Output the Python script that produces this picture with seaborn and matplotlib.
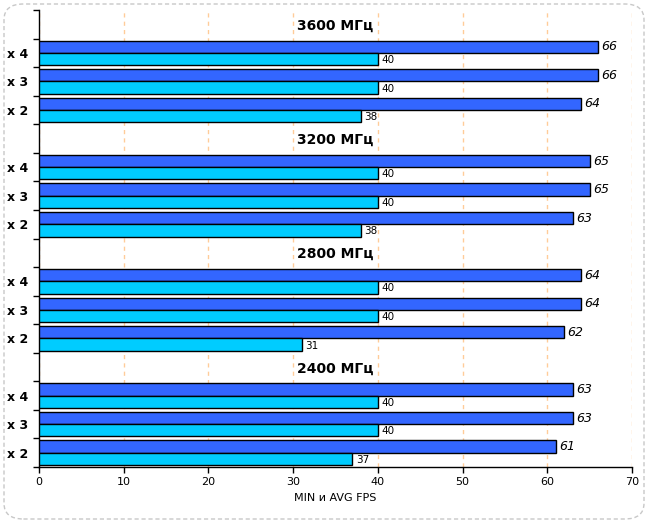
import matplotlib.pyplot as plt
import pandas as pd
import seaborn as sns
from matplotlib.patches import FancyBboxPatch

# data (top to bottom)
freqs = ["3600 МГц", "3200 МГц", "2800 МГц", "2400 МГц"]
modes = ["x 4", "x 3", "x 2"]
avg_fps = [[66, 66, 64], [65, 65, 63], [64, 64, 62], [63, 63, 61]]
min_fps = [[40, 40, 38], [40, 40, 38], [40, 40, 31], [40, 40, 37]]

# build the rows; each group gets an empty slot for its title
order = []
rows = []
for i, f in enumerate(freqs):
    order.append("t" + f)
    for j, m in enumerate(modes):
        key = f + m
        order.append(key)
        rows.append({"slot": key, "kind": "AVG", "fps": avg_fps[i][j]})
        rows.append({"slot": key, "kind": "MIN", "fps": min_fps[i][j]})
df = pd.DataFrame(rows)

sns.set_style("white")
plt.rcParams["font.family"] = ["DejaVu Sans"]
plt.rcParams["text.color"] = "black"
plt.rcParams["xtick.color"] = "black"
plt.rcParams["ytick.color"] = "black"
plt.rcParams["axes.labelcolor"] = "black"

fig = plt.figure(figsize=(6.48, 5.23), dpi=100)
ax = fig.add_axes([39 / 648, 1 - 467 / 523, (632 - 39) / 648, (467 - 10) / 523])

sns.barplot(data=df, y="slot", x="fps", hue="kind", order=order,
            hue_order=["AVG", "MIN"], palette=["#3366FF", "#00CCFF"],
            saturation=1, orient="h", width=0.86, edgecolor="black",
            linewidth=1, legend=False, ax=ax, zorder=3)

ax.set_xlim(0, 70)
ax.set_ylim(len(order) - 0.5, -0.5)
ax.set_xticks(range(0, 71, 10))
ax.set_xlabel("MIN и AVG FPS", fontsize=8)
ax.set_ylabel("")

# y ticks at slot boundaries, labels in the middle
ax.set_yticks([k - 0.5 for k in range(len(order) + 1)])
ax.set_yticklabels([])
ax.set_yticks(range(len(order)), minor=True)
ax.set_yticklabels(["" if s.startswith("t") else s[-3:] for s in order],
                   minor=True, fontsize=9, fontweight="bold")
ax.tick_params(axis="y", which="major", length=4, width=1, color="black", left=True)
ax.tick_params(axis="y", which="minor", length=0, pad=8)
ax.tick_params(axis="x", length=4, width=1, color="black", bottom=True, labelsize=8)

for sp in ["top", "right"]:
    ax.spines[sp].set_visible(False)
for sp in ["left", "bottom"]:
    ax.spines[sp].set_color("black")
    ax.spines[sp].set_linewidth(1)

ax.grid(axis="x", color="#FFCC99", linestyle=(0, (3, 3)), linewidth=1, zorder=0)
ax.set_axisbelow(True)

# group titles and value labels
for i, f in enumerate(freqs):
    y0 = order.index("t" + f)
    ax.text(35, y0 + 0.05, f, ha="center", va="center", fontsize=10, fontweight="bold")
    for j, m in enumerate(modes):
        y = order.index(f + m)
        ax.text(avg_fps[i][j] + 0.4, y - 0.21, str(avg_fps[i][j]), ha="left",
                va="center", fontsize=9, style="italic")
        ax.text(min_fps[i][j] + 0.4, y + 0.25, str(min_fps[i][j]), ha="left",
                va="center", fontsize=7.5)

# dashed rounded frame round the figure
frame = FancyBboxPatch((4 / 648, 4 / 523), 640 / 648, 515 / 523,
                       boxstyle="round,pad=0,rounding_size=0.03",
                       transform=fig.transFigure, fill=False,
                       edgecolor="#C8C8C8", linestyle=(0, (3, 2)), linewidth=1)
fig.patches.append(frame)

fig.savefig("out.png", dpi=100)
